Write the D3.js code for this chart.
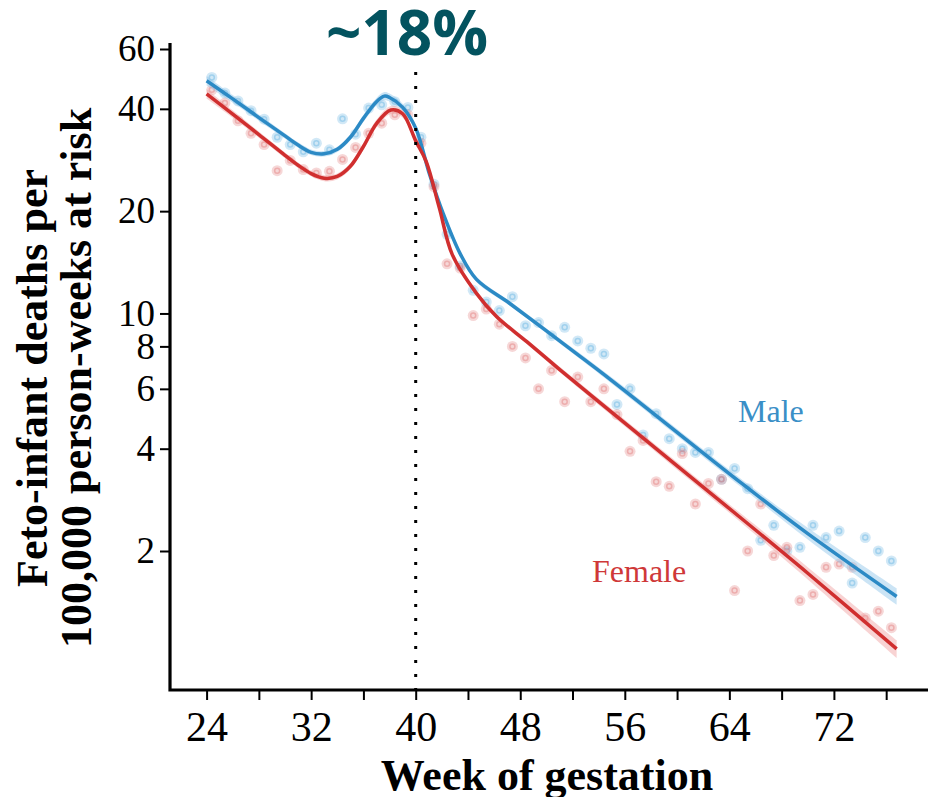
<!DOCTYPE html>
<html>
<head>
<meta charset="utf-8">
<script src="https://cdn.jsdelivr.net/npm/d3@7"></script>
<style>
  body { margin: 0; background: #fff; }
  svg { display: block; }
</style>
</head>
<body>
<script>
// weekly feto-infant death rates, per 100,000 person-weeks at risk (weeks 24..76)
var weeks = d3.range(24, 77);
var maleRates = [49.5, 44.5, 42.2, 39.5, 37.3, 33.0, 31.4, 29.9, 31.7, 30.3,
                 37.4, 33.7, 40.2, 41.1, 42.0, 40.4, 33.0, 24.0, 17.1, 13.8,
                 11.7, 10.8, 10.2, 11.2, 9.2, 9.4, 8.6, 9.1, 8.3, 7.9,
                 7.6, 5.4, 6.0, 4.39, 5.07, 4.28, 4.0, 3.9, 3.9, 3.25,
                 3.5, 3.05, 2.15, 2.38, 2.0, 2.05, 2.38, 2.19, 2.29, 1.61,
                 2.19, 2.0, 1.87];
var femaleRates = [45.5, 41.6, 36.9, 33.9, 31.4, 26.3, 28.2, 26.5, 25.9, 26.2,
                   28.4, 30.8, 33.9, 36.3, 38.4, 38.4, 31.7, 23.6, 14.0, 13.6,
                   9.86, 10.3, 9.3, 8.0, 7.4, 6.0, 6.8, 5.5, 6.5, 5.5,
                   6.0, 5.04, 3.93, 4.23, 3.2, 3.1, 3.87, 2.75, 3.16, 3.25,
                   1.53, 2.0, 2.75, 1.94, 2.05, 1.43, 1.49, 1.79, 1.83, 1.79,
                   1.27, 1.33, 1.19];

// smoothed fits, with half-width of the band (log10 units)
var maleFitWeeks = [24, 26, 28, 30, 31, 32, 33, 34, 35, 36, 37, 37.6, 38, 39, 40, 41.07,
                    42.1, 43.4, 44.65, 47.2, 49.75, 52.3, 54.86, 65, 70, 76.8];
var maleFit = [48.4, 42.8, 37.7, 33.3, 31.3, 29.8, 29.5, 30.4, 33.0, 37.5, 42.0, 43.6, 43.2, 40.4, 35.1, 25.6,
               19.7, 15.0, 12.6, 10.7, 9.04, 7.62, 6.41, 3.15, 2.25, 1.47];
var maleCI = [0.014, 0.011, 0.009, 0.008, 0.008, 0.008, 0.008, 0.008, 0.009, 0.010, 0.011, 0.012, 0.012, 0.011, 0.010, 0.010,
              0.009, 0.008, 0.008, 0.007, 0.007, 0.008, 0.009, 0.012, 0.017, 0.024];

var femaleFitWeeks = [24, 26, 28, 30, 31, 32, 33, 34, 35, 36, 37, 38.1, 39, 40, 40.8, 41.8,
                      42.8, 44.65, 46.2, 48.5, 51, 53.3, 65, 70, 76.8];
var femaleFit = [44.3, 38.6, 33.6, 29.2, 27.3, 25.8, 25.0, 25.3, 27.1, 31.0, 36.2, 39.7, 38.7, 32.2, 28.0, 20.5,
                 14.9, 11.46, 9.78, 8.26, 6.85, 5.79, 2.48, 1.72, 1.03];
var femaleCI = [0.014, 0.011, 0.009, 0.008, 0.008, 0.008, 0.009, 0.009, 0.009, 0.010, 0.011, 0.012, 0.011, 0.010, 0.010, 0.009,
                0.008, 0.008, 0.007, 0.007, 0.008, 0.009, 0.013, 0.018, 0.026];

var yTicks = [2, 4, 6, 8, 10, 20, 40, 60];
var xTicks = d3.range(24, 77, 4);
var xLabelStep = 8;
var cutoffWeek = 40;
var headline = "~18%";

var W = 928, H = 797;
var left = 170, bottom = 690;

var svg = d3.select("body").append("svg")
    .attr("width", W)
    .attr("height", H);

var x = d3.scaleLinear().domain([21.2, 79.2]).range([left, W]);
var y = d3.scaleLog().domain([2, 60]).range([551, 49]);

var blue = "#2c8ac5", red = "#d02f2f";
var smooth = d3.curveCatmullRom.alpha(0.5);

// confidence bands
function band(ws, fit, ci) {
  return d3.area()
    .x(function (d, i) { return x(ws[i]); })
    .y0(function (d, i) { return y(fit[i] * Math.pow(10, -ci[i])); })
    .y1(function (d, i) { return y(fit[i] * Math.pow(10, ci[i])); })
    .curve(smooth)(fit);
}

// points sit mid-week
function drawPoints(rates, col) {
  var g = svg.append("g");
  g.selectAll("circle.halo")
    .data(rates)
    .enter()
    .append("circle")
    .attr("cx", function (d, i) { return x(weeks[i] + 0.4); })
    .attr("cy", function (d) { return y(d); })
    .attr("r", 5.5)
    .attr("fill", col)
    .attr("fill-opacity", 0.28);
  g.selectAll("circle.ring")
    .data(rates)
    .enter()
    .append("circle")
    .attr("cx", function (d, i) { return x(weeks[i] + 0.4); })
    .attr("cy", function (d) { return y(d); })
    .attr("r", 2.5)
    .attr("fill", "none")
    .attr("stroke", col)
    .attr("stroke-opacity", 0.4)
    .attr("stroke-width", 1.5);
}

drawPoints(maleRates, "#5aaee0");
drawPoints(femaleRates, "#e07070");

svg.append("path")
  .attr("d", band(maleFitWeeks, maleFit, maleCI))
  .attr("fill", "#8cc3e8")
  .attr("fill-opacity", 0.45);
svg.append("path")
  .attr("d", band(femaleFitWeeks, femaleFit, femaleCI))
  .attr("fill", "#ef9d9d")
  .attr("fill-opacity", 0.45);

function fitLine(ws) {
  return d3.line()
    .x(function (d, i) { return x(ws[i]); })
    .y(function (d) { return y(d); })
    .curve(smooth);
}

svg.append("path")
  .attr("d", fitLine(maleFitWeeks)(maleFit))
  .attr("fill", "none")
  .attr("stroke", blue)
  .attr("stroke-width", 3.5);
svg.append("path")
  .attr("d", fitLine(femaleFitWeeks)(femaleFit))
  .attr("fill", "none")
  .attr("stroke", red)
  .attr("stroke-width", 3.5);

// dotted cutoff line at week 40
svg.append("line")
  .attr("x1", x(cutoffWeek)).attr("x2", x(cutoffWeek))
  .attr("y1", 72).attr("y2", bottom)
  .attr("stroke", "#000")
  .attr("stroke-width", 3)
  .attr("stroke-dasharray", "3,11");

// axes
var yAxis = svg.append("g")
  .attr("transform", "translate(" + left + ",0)")
  .call(d3.axisLeft(y).tickValues(yTicks).tickFormat(d3.format("d")).tickSize(10).tickPadding(5).tickSizeOuter(0));
yAxis.select(".domain").remove();
yAxis.selectAll(".tick line").attr("stroke", "#000").attr("stroke-width", 2);
yAxis.selectAll(".tick text")
  .attr("font-family", "'Liberation Serif', 'Times New Roman', serif")
  .attr("font-size", "37px")
  .attr("fill", "#000");

var xAxis = svg.append("g")
  .attr("transform", "translate(0," + bottom + ")")
  .call(d3.axisBottom(x).tickValues(xTicks)
        .tickFormat(function (d) { return (d - 24) % xLabelStep === 0 ? d : ""; })
        .tickSize(10).tickSizeOuter(0));
xAxis.select(".domain").remove();
xAxis.selectAll(".tick line").attr("stroke", "#000").attr("stroke-width", 2);
xAxis.selectAll(".tick text")
  .attr("y", 51).attr("dy", 0)
  .attr("font-family", "'Liberation Serif', 'Times New Roman', serif")
  .attr("font-size", "42px")
  .attr("fill", "#000");

// axis lines
svg.append("path")
  .attr("d", "M" + left + "," + 43 + "V" + bottom + "H" + W)
  .attr("fill", "none")
  .attr("stroke", "#000")
  .attr("stroke-width", 3.2);

// titles
svg.append("text")
  .attr("x", 547).attr("y", 790)
  .attr("text-anchor", "middle")
  .attr("font-family", "'Liberation Serif', serif")
  .attr("font-weight", "bold")
  .attr("font-size", "44px")
  .text("Week of gestation");

var yl = svg.append("text")
  .attr("transform", "translate(0,378) rotate(-90)")
  .attr("text-anchor", "middle")
  .attr("font-family", "'Liberation Serif', serif")
  .attr("font-weight", "bold")
  .attr("font-size", "44px");
yl.append("tspan").attr("x", 0).attr("y", 47).text("Feto-infant deaths per");
yl.append("tspan").attr("x", 0).attr("y", 91).text("100,000 person-weeks at risk");

svg.append("text")
  .attr("x", 407).attr("y", 55)
  .attr("text-anchor", "middle")
  .attr("font-family", "'Open Sans', sans-serif")
  .attr("font-weight", 700)
  .attr("font-size", "62px")
  .attr("fill", "#03535f")
  .text(headline);

// series labels
svg.append("text")
  .attr("x", 738).attr("y", 422)
  .attr("font-family", "'Liberation Serif', serif")
  .attr("font-size", "32px")
  .attr("fill", "#3a8fc7")
  .text("Male");
svg.append("text")
  .attr("x", 592).attr("y", 582)
  .attr("font-family", "'Liberation Serif', serif")
  .attr("font-size", "32px")
  .attr("fill", "#cf3838")
  .text("Female");
</script>
</body>
</html>
